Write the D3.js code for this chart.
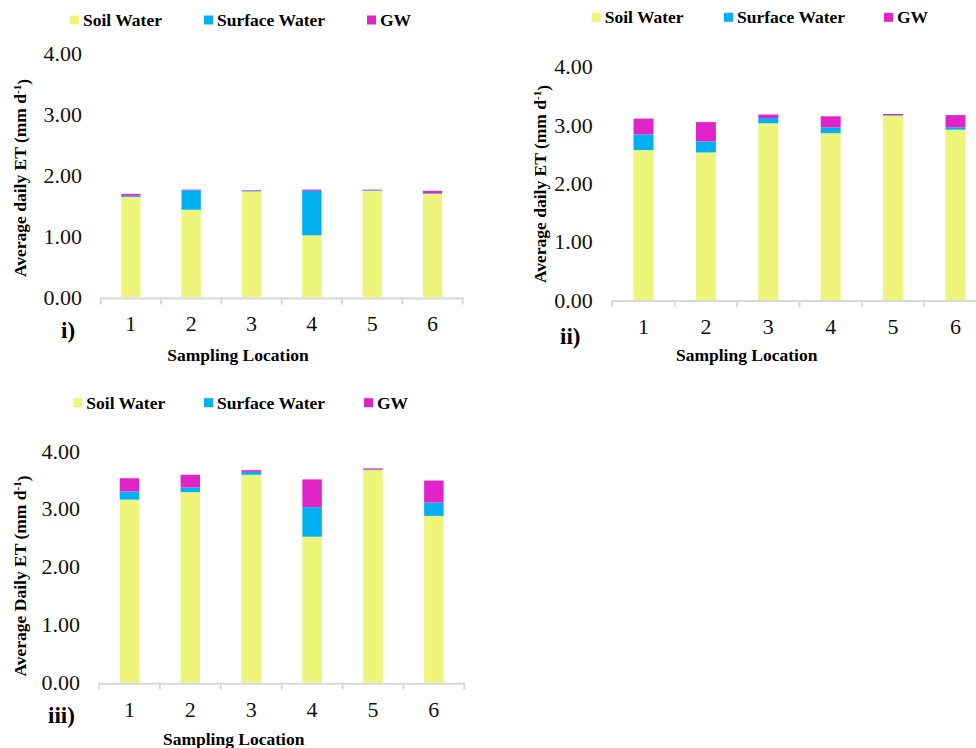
<!DOCTYPE html>
<html>
<head>
<meta charset="utf-8">
<script src="https://cdn.jsdelivr.net/npm/d3@7"></script>
<style>
  body { margin: 0; background: #fff; }
  svg { display: block; font-family: "Liberation Serif", "Times New Roman", serif; }
</style>
</head>
<body>
<svg id="chart" width="976" height="748"></svg>
<script>
// data
var locations = ["1", "2", "3", "4", "5", "6"];
var seriesNames = ["Soil Water", "Surface Water", "GW"];
var yTicks = [0, 1, 2, 3, 4];

// panel i)
var soil_i    = [1.65, 1.44, 1.74, 1.02, 1.75, 1.70];
var surface_i = [0.02, 0.32, 0.01, 0.73, 0.01, 0.01];
var gw_i      = [0.03, 0.01, 0.01, 0.02, 0.01, 0.04];

// panel ii)
var soil_ii    = [2.57, 2.53, 3.03, 2.86, 3.16, 2.92];
var surface_ii = [0.27, 0.19, 0.09, 0.10, 0.01, 0.04];
var gw_ii      = [0.27, 0.33, 0.06, 0.19, 0.02, 0.21];

// panel iii)
var soil_iii    = [3.16, 3.29, 3.59, 2.52, 3.67, 2.88];
var surface_iii = [0.14, 0.08, 0.05, 0.51, 0.01, 0.23];
var gw_iii      = [0.23, 0.22, 0.03, 0.48, 0.02, 0.38];

var colors = d3.scaleOrdinal()
  .domain(seriesNames)
  .range(["#EDF57A", "#00B0F0", "#E024C8"]);

var svg = d3.select("#chart");

// layout of each panel
var panels = [
  { tag: "i)", soil: soil_i, surface: surface_i, gw: gw_i,
    x0: 100.7, x1: 462.7, yTop: 53.7, yBase: 297.5,
    legendY: 20, legendX: [70, 204, 367],
    yLabel: "Average daily ET (mm d", yLabelX: 20, yLabelY: 178,
    tickRight: 82, tickBase: 330.5, tagX: 61, tagY: 338,
    xTitleX: 238, xTitleY: 361 },
  { tag: "ii)", soil: soil_ii, surface: surface_ii, gw: gw_ii,
    x0: 612.3, x1: 986.7, yTop: 66.7, yBase: 300,
    legendY: 17.3, legendX: [591.7, 724, 884],
    yLabel: "Average daily ET (mm d", yLabelX: 540, yLabelY: 184,
    tickRight: 592.7, tickBase: 334, tagX: 560, tagY: 344,
    xTitleX: 746.7, xTitleY: 361 },
  { tag: "iii)", soil: soil_iii, surface: surface_iii, gw: gw_iii,
    x0: 99, x1: 464.3, yTop: 451, yBase: 682.7,
    legendY: 402.7, legendX: [73.3, 204, 364],
    yLabel: "Average Daily ET (mm d", yLabelX: 20, yLabelY: 576,
    tickRight: 80, tickBase: 717, tagX: 48, tagY: 723,
    xTitleX: 233.7, xTitleY: 745 }
];

panels.forEach(drawPanel);

function drawPanel(p) {
  var g = svg.append("g");

  var rows = locations.map(function (loc, i) {
    return { loc: loc, "Soil Water": p.soil[i], "Surface Water": p.surface[i], "GW": p.gw[i] };
  });
  var stacked = d3.stack().keys(seriesNames)(rows);

  var x = d3.scaleBand()
    .domain(locations)
    .range([p.x0, p.x1])
    .paddingInner(0.68)
    .paddingOuter(0.34);

  var y = d3.scaleLinear()
    .domain([0, 4])
    .range([p.yBase, p.yTop]);

  // y tick labels (no axis line in the original)
  g.selectAll("text.ytick")
    .data(yTicks)
    .enter().append("text")
    .attr("class", "ytick")
    .attr("x", p.tickRight)
    .attr("y", function (d) { return y(d) + 7.5; })
    .attr("text-anchor", "end")
    .style("font-size", "22px")
    .attr("fill", "#111")
    .text(function (d) { return d3.format(".2f")(d); });

  // bars
  g.selectAll("g.layer")
    .data(stacked)
    .enter().append("g")
    .attr("class", "layer")
    .attr("fill", function (d) { return colors(d.key); })
    .selectAll("rect")
    .data(function (d) { return d; })
    .enter().append("rect")
    .attr("x", function (d) { return x(d.data.loc); })
    .attr("width", x.bandwidth())
    .attr("y", function (d) { return y(d[1]); })
    .attr("height", function (d) { return Math.max(0, y(d[0]) - y(d[1])); });

  // x axis line with category separators
  var step = x.step();
  g.append("line")
    .attr("x1", p.x0).attr("x2", p.x1)
    .attr("y1", p.yBase + 1).attr("y2", p.yBase + 1)
    .attr("stroke", "#D9D9D9").attr("stroke-width", 2);
  g.selectAll("line.sep")
    .data(d3.range(locations.length + 1))
    .enter().append("line")
    .attr("class", "sep")
    .attr("x1", function (i) { return p.x0 + i * step; })
    .attr("x2", function (i) { return p.x0 + i * step; })
    .attr("y1", p.yBase).attr("y2", p.yBase + 7)
    .attr("stroke", "#D9D9D9").attr("stroke-width", 2);

  // x tick labels
  g.selectAll("text.xtick")
    .data(locations)
    .enter().append("text")
    .attr("class", "xtick")
    .attr("x", function (d) { return x(d) + x.bandwidth() / 2; })
    .attr("y", p.tickBase)
    .attr("text-anchor", "middle")
    .style("font-size", "22px")
    .attr("fill", "#111")
    .text(function (d) { return d; });

  // x title
  g.append("text")
    .attr("x", p.xTitleX).attr("y", p.xTitleY)
    .attr("text-anchor", "middle")
    .style("font-size", "17.5px").style("font-weight", "bold")
    .text("Sampling Location");

  // panel tag
  g.append("text")
    .attr("x", p.tagX).attr("y", p.tagY)
    .style("font-size", "23px").style("font-weight", "bold")
    .text(p.tag);

  // y title with superscript
  var yt = g.append("text")
    .attr("transform", "translate(" + p.yLabelX + "," + p.yLabelY + ") rotate(-90)")
    .attr("text-anchor", "middle")
    .attr("dy", "0.35em")
    .style("font-size", "17.5px").style("font-weight", "bold");
  yt.append("tspan").text(p.yLabel);
  yt.append("tspan").attr("dy", "-0.45em").style("font-size", "11px").text("-1");
  yt.append("tspan").attr("dy", "0.45em").text(")");

  // legend
  var lg = g.selectAll("g.leg")
    .data(seriesNames)
    .enter().append("g")
    .attr("class", "leg")
    .attr("transform", function (d, i) { return "translate(" + p.legendX[i] + "," + p.legendY + ")"; });
  lg.append("rect")
    .attr("x", 0).attr("y", -4.5)
    .attr("width", 9).attr("height", 9)
    .attr("fill", function (d) { return colors(d); });
  lg.append("text")
    .attr("x", 13).attr("y", 6)
    .style("font-size", "17.5px").style("font-weight", "bold")
    .text(function (d) { return d; });
}
</script>
</body>
</html>
